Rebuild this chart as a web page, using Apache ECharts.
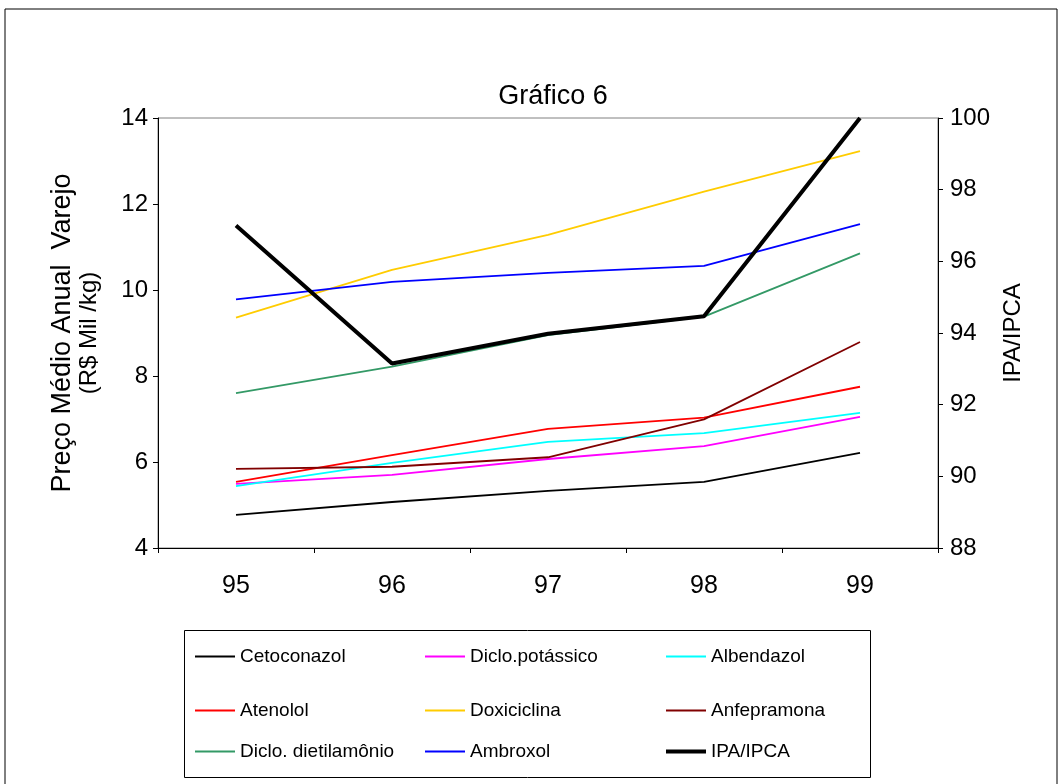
<!DOCTYPE html>
<html>
<head>
<meta charset="utf-8">
<script src="https://cdn.jsdelivr.net/npm/echarts@6/dist/echarts.min.js"></script>
<style>html,body{margin:0;padding:0;background:#fff}#c{width:1064px;height:784px}</style>
</head>
<body>
<div id="c"></div>
<script>
const categories = ['95', '96', '97', '98', '99'];
const seriesNames = ['Cetoconazol', 'Diclo.potássico', 'Albendazol', 'Atenolol', 'Doxiciclina', 'Anfepramona', 'Diclo. dietilamônio', 'Ambroxol', 'IPA/IPCA'];
const cetoconazol = [4.77, 5.07, 5.33, 5.54, 6.21];
const dicloPotassico = [5.49, 5.70, 6.07, 6.37, 7.05];
const albendazol = [5.44, 5.98, 6.47, 6.67, 7.14];
const atenolol = [5.54, 6.16, 6.77, 7.03, 7.75];
const doxiciclina = [9.36, 10.47, 11.28, 12.29, 13.23];
const anfepramona = [5.84, 5.89, 6.11, 6.99, 8.79];
const dicloDietilamonio = [7.60, 8.22, 8.95, 9.38, 10.85];
const ambroxol = [9.78, 10.19, 10.40, 10.56, 11.53];
const ipaIpca = [97.0, 93.15, 93.98, 94.47, 100.0];
const leftTicks = [4, 6, 8, 10, 12, 14];
const rightTicks = [88, 90, 92, 94, 96, 98, 100];

const values = [cetoconazol, dicloPotassico, albendazol, atenolol, doxiciclina, anfepramona, dicloDietilamonio, ambroxol, ipaIpca];
const colors = ['#000000', '#FF00FF', '#00FFFF', '#FF0000', '#FFCC00', '#800000', '#339966', '#0000FF', '#000000'];
const FONT = 'Liberation Sans, Arial, sans-serif';

const chart = echarts.init(document.getElementById('c'));

const series = seriesNames.map((n, i) => ({
  name: n,
  type: 'line',
  data: values[i],
  yAxisIndex: i === 8 ? 1 : 0,
  symbol: 'none',
  showSymbol: false,
  z: i === 8 ? 5 : 3,
  lineStyle: { color: colors[i], width: i === 8 ? 4 : 1.8 },
  itemStyle: { color: colors[i] },
  animation: false
}));

const colX = [195, 425, 666];
const rowY = [647, 701, 742];
const legends = seriesNames.map((n, i) => ({
  data: [n],
  left: colX[i % 3],
  top: rowY[Math.floor(i / 3)],
  icon: 'rect',
  itemWidth: 40,
  itemHeight: i === 8 ? 4 : 2,
  padding: 0,
  selectedMode: false,
  textStyle: { fontFamily: FONT, fontSize: 19, color: '#000' }
}));

chart.setOption({
  backgroundColor: '#fff',
  animation: false,
  title: {
    text: 'Gráfico 6',
    left: 553,
    textAlign: 'center',
    top: 83,
    padding: 0,
    textStyle: { fontFamily: FONT, fontSize: 27, fontWeight: 'normal', color: '#000' }
  },
  legend: legends,
  graphic: [
    { type: 'rect', shape: { x: 5, y: 9, width: 1052, height: 800 }, style: { fill: 'none', stroke: '#000', lineWidth: 1 }, silent: true, z: -1 },
    { type: 'rect', shape: { x: 184.5, y: 630.5, width: 686, height: 147 }, style: { fill: 'none', stroke: '#000', lineWidth: 1 }, silent: true, z: -1 }
  ],
  grid: {
    left: 158, right: 126, top: 118, bottom: 236,
    show: true, borderColor: '#808080', borderWidth: 1, backgroundColor: 'transparent'
  },
  xAxis: {
    type: 'category',
    data: categories,
    boundaryGap: true,
    axisLine: { lineStyle: { color: '#000', width: 1 } },
    axisTick: { show: true, length: 5, lineStyle: { color: '#000' } },
    axisLabel: { fontFamily: FONT, fontSize: 25, color: '#000', margin: 26 }
  },
  yAxis: [
    {
      type: 'value', min: leftTicks[0], max: leftTicks[leftTicks.length - 1], interval: 2,
      position: 'left',
      name: '{a|Preço Médio Anual  Varejo}\n{b|(R$ Mil /kg)}',
      nameLocation: 'middle', nameGap: 56, nameRotate: 90,
      nameTextStyle: {
        fontFamily: FONT, fontSize: 24, color: '#000',
        rich: {
          a: { fontFamily: FONT, fontSize: 27, color: '#000', lineHeight: 27 },
          b: { fontFamily: FONT, fontSize: 24, color: '#000', lineHeight: 26 }
        }
      },
      axisLine: { show: true, lineStyle: { color: '#000', width: 1 } },
      axisTick: { show: true, length: 5, lineStyle: { color: '#000' } },
      splitLine: { show: false },
      axisLabel: { fontFamily: FONT, fontSize: 24, color: '#000', margin: 10 }
    },
    {
      type: 'value', min: rightTicks[0], max: rightTicks[rightTicks.length - 1], interval: 2,
      position: 'right',
      name: 'IPA/IPCA',
      nameLocation: 'middle', nameGap: 57, nameRotate: 90,
      nameTextStyle: { fontFamily: FONT, fontSize: 24, color: '#000' },
      axisLine: { show: true, lineStyle: { color: '#000', width: 1 } },
      axisTick: { show: true, length: 5, lineStyle: { color: '#000' } },
      splitLine: { show: false },
      axisLabel: { fontFamily: FONT, fontSize: 24, color: '#000', margin: 12 }
    }
  ],
  series: series
});
</script>
</body>
</html>
